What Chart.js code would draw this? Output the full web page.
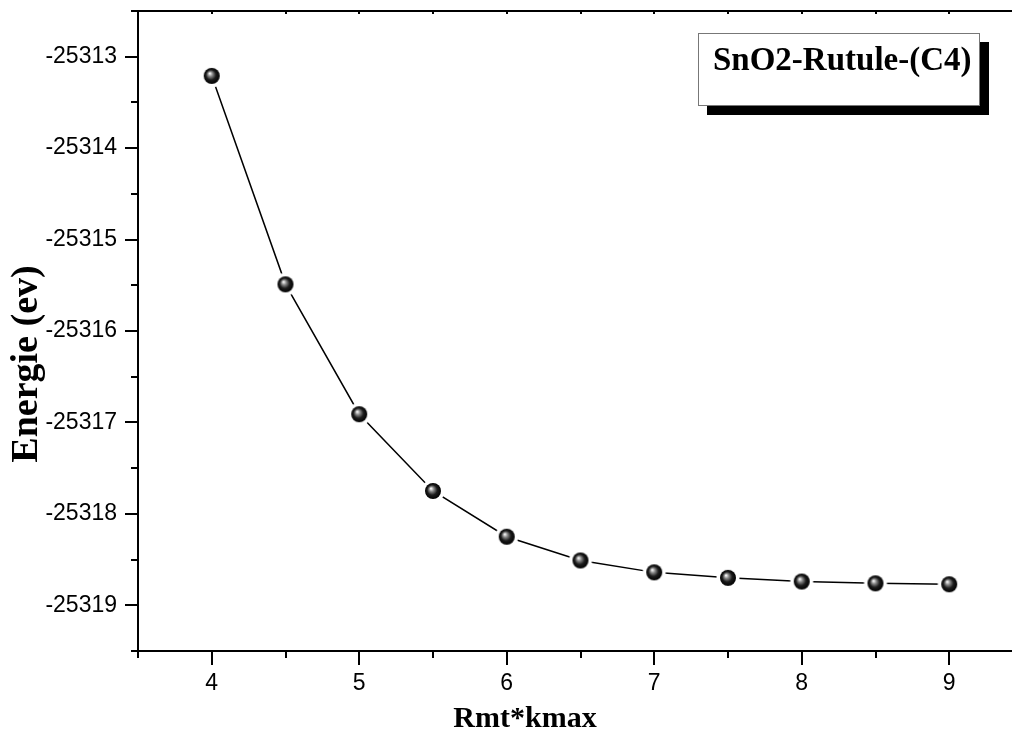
<!doctype html>
<html>
<head>
<meta charset="utf-8" />
<title>SnO2 Rutule (C4) - Energie vs Rmt*kmax</title>
<script src="https://cdn.jsdelivr.net/npm/chart.js"></script>
<style>
  html, body { margin: 0; padding: 0; background: #fff; overflow: hidden; }
  #wrap { position: relative; width: 1040px; height: 730px; }
</style>
</head>
<body>
<div id="wrap"><canvas id="cv"></canvas></div>
<script>
// Convergence: total energy vs Rmt*kmax
const rkmax = [4, 4.5, 5, 5.5, 6, 6.5, 7, 7.5, 8, 8.5, 9];
const energie = [-25313.21, -25315.49, -25316.91, -25317.75, -25318.25, -25318.51,
                 -25318.64, -25318.70, -25318.74, -25318.76, -25318.77];

const xTicks = [4, 5, 6, 7, 8, 9];
const yTicks = [-25319, -25318, -25317, -25316, -25315, -25314, -25313];

const legendText = 'SnO2-Rutule-(C4)';
const xTitle = 'Rmt*kmax';
const yTitle = 'Energie (ev)';

const SERIF = "'Liberation Serif', 'Times New Roman', serif";
const SANS = "'Liberation Sans', Arial, sans-serif";

// shaded black ball used as marker, with a white halo so the line stops short of it
function makeBall() {
  const c = document.createElement('canvas');
  c.width = 26; c.height = 26;
  const g = c.getContext('2d');
  g.fillStyle = '#fff';
  g.beginPath(); g.arc(13, 13, 11.5, 0, Math.PI * 2); g.fill();
  const grd = g.createRadialGradient(11, 10.5, 0.5, 13, 13, 8);
  grd.addColorStop(0, '#f2f2f2');
  grd.addColorStop(0.25, '#8a8a8a');
  grd.addColorStop(0.6, '#1c1c1c');
  grd.addColorStop(1, '#000');
  g.fillStyle = grd;
  g.beginPath(); g.arc(13, 13, 8, 0, Math.PI * 2); g.fill();
  return c;
}
const ball = makeBall();

// axes frame, major/minor ticks, titles and the shadowed label box
const framePlugin = {
  id: 'frame',
  afterDraw(chart) {
    const { ctx, chartArea: a, scales: { x, y } } = chart;
    ctx.save();
    ctx.strokeStyle = '#000';
    ctx.lineWidth = 2;
    ctx.lineCap = 'butt';

    ctx.beginPath();
    ctx.moveTo(a.left, a.top); ctx.lineTo(a.left, a.bottom);
    ctx.moveTo(a.left, a.bottom); ctx.lineTo(a.right, a.bottom);
    ctx.moveTo(a.left, a.top); ctx.lineTo(a.right, a.top);
    ctx.stroke();

    ctx.beginPath();
    for (let v = x.min; v <= x.max + 1e-9; v += 0.5) {
      const px = Math.round(x.getPixelForValue(v));
      const len = Number.isInteger(v) ? 14 : 7;
      ctx.moveTo(px, a.bottom); ctx.lineTo(px, a.bottom + len);
      ctx.moveTo(px, a.top); ctx.lineTo(px, a.top + 3);
    }
    for (let v = y.min; v <= y.max + 1e-9; v += 0.5) {
      const py = Math.round(y.getPixelForValue(v));
      const len = Number.isInteger(v) ? 13 : 7;
      ctx.moveTo(a.left, py); ctx.lineTo(a.left - len, py);
    }
    ctx.stroke();

    // axis titles
    ctx.fillStyle = '#000';
    ctx.font = 'bold 30px ' + SERIF;
    ctx.textAlign = 'center';
    ctx.textBaseline = 'alphabetic';
    ctx.fillText(xTitle, 525, 727);

    ctx.save();
    ctx.translate(37, 364);
    ctx.rotate(-Math.PI / 2);
    ctx.font = 'bold 38px ' + SERIF;
    ctx.fillText(yTitle, 0, 0);
    ctx.restore();

    // label box with drop shadow
    const bx = 698, by = 33, bw = 281, bh = 72;
    ctx.fillStyle = '#000';
    ctx.fillRect(bx + 9, by + 9, bw + 1, bh + 1);
    ctx.fillStyle = '#fff';
    ctx.fillRect(bx, by, bw, bh);
    ctx.strokeStyle = '#777';
    ctx.lineWidth = 1;
    ctx.strokeRect(bx + 0.5, by + 0.5, bw, bh);
    ctx.fillStyle = '#000';
    ctx.font = 'bold 33px ' + SERIF;
    ctx.textAlign = 'left';
    ctx.fillText(legendText, 713, 70);

    ctx.restore();
  }
};

new Chart(document.getElementById('cv'), {
  type: 'line',
  data: {
    datasets: [{
      data: rkmax.map((v, i) => ({ x: v, y: energie[i] })),
      borderColor: '#000',
      borderWidth: 1.5,
      tension: 0,
      fill: false,
      pointStyle: ball,
      pointRadius: 8,
      pointHoverRadius: 8
    }]
  },
  options: {
    responsive: true,
    maintainAspectRatio: false,
    devicePixelRatio: 1,
    animation: false,
    layout: { padding: { top: 11, right: 17, left: 0, bottom: 0 } },
    plugins: { legend: { display: false }, tooltip: { enabled: false }, title: { display: false } },
    scales: {
      x: {
        type: 'linear',
        min: 3.5,
        max: 9.5,
        afterBuildTicks: s => { s.ticks = xTicks.map(v => ({ value: v })); },
        afterFit: s => { s.height = 79; s.paddingLeft = 0; s.paddingRight = 0; },
        grid: { display: false, drawTicks: false },
        border: { display: false },
        ticks: { color: '#000', font: { family: SANS, size: 23 }, padding: 19, callback: v => String(v) }
      },
      y: {
        type: 'linear',
        min: -25319.5,
        max: -25312.5,
        afterBuildTicks: s => { s.ticks = yTicks.map(v => ({ value: v })); },
        afterFit: s => { s.width = 138; s.paddingTop = 0; s.paddingBottom = 0; },
        grid: { display: false, drawTicks: false },
        border: { display: false },
        ticks: { color: '#000', font: { family: SANS, size: 23 }, padding: 21, callback: v => String(v) }
      }
    }
  },
  plugins: [framePlugin]
});
</script>
</body>
</html>
